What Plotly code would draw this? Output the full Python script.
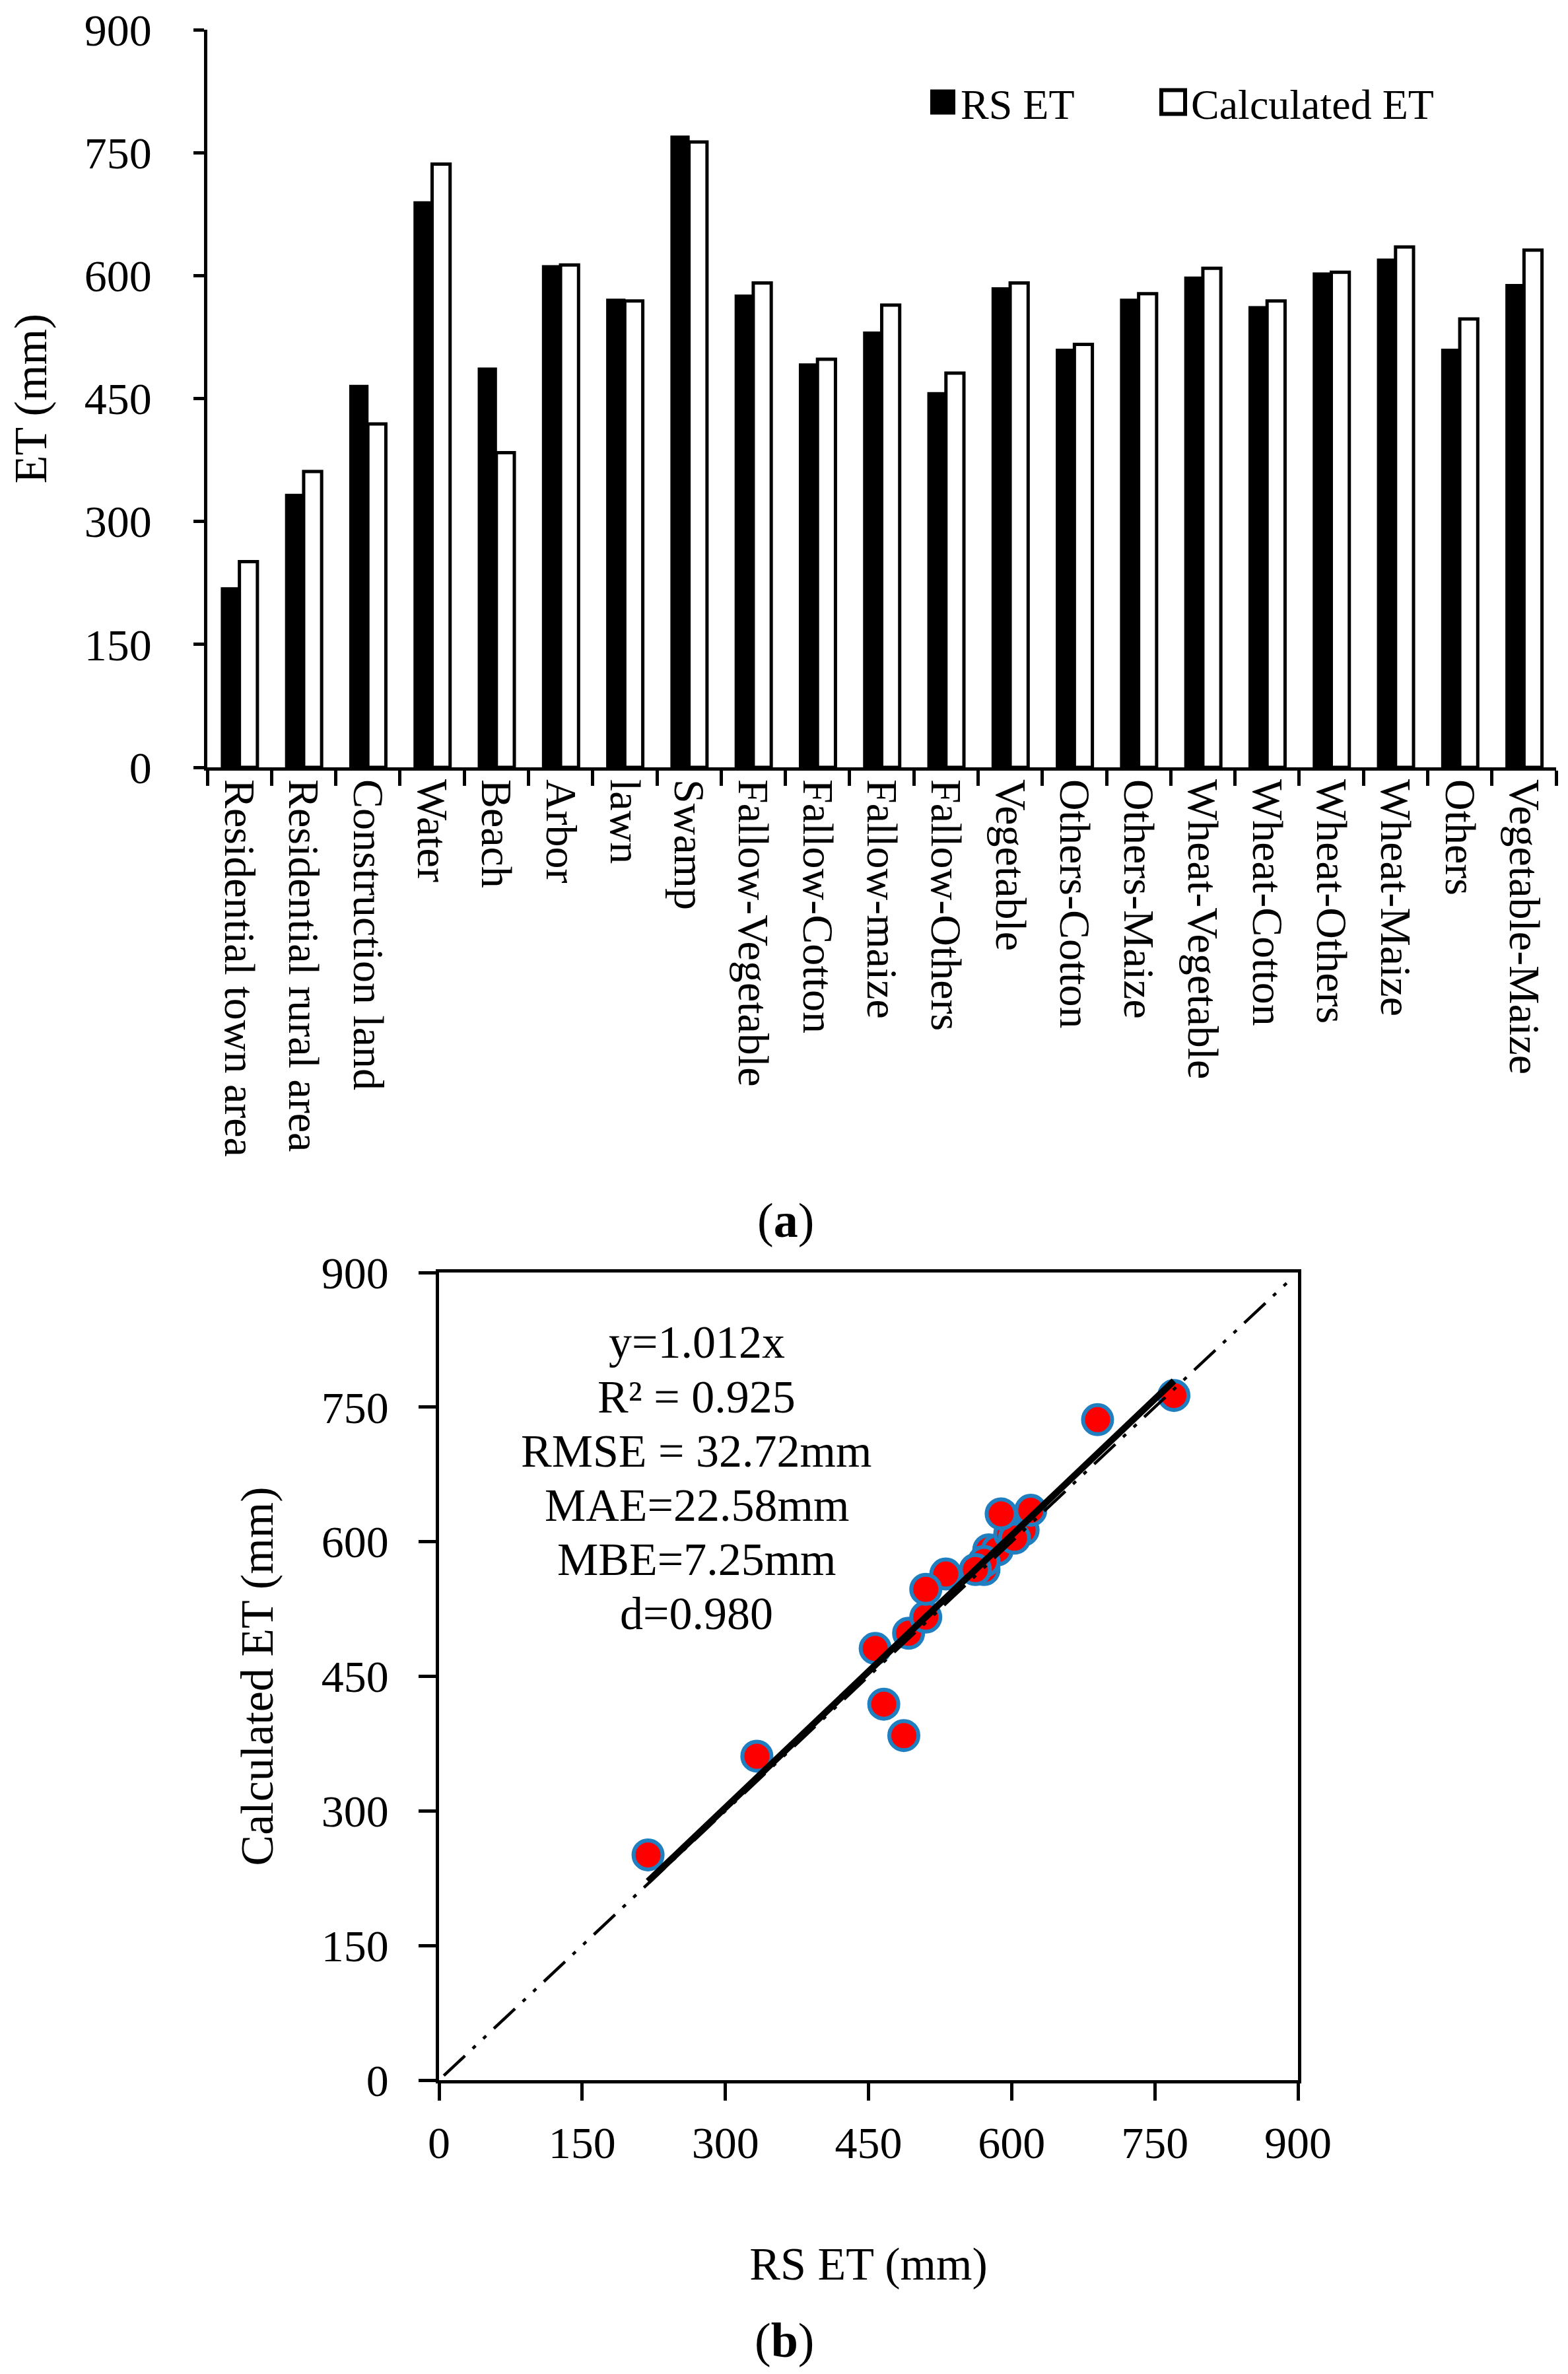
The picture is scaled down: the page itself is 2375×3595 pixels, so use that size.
import plotly.graph_objects as go

categories = [
    "Residential town area", "Residential rural area", "Construction land", "Water",
    "Beach", "Arbor", "lawn", "Swamp", "Fallow-Vegetable", "Fallow-Cotton",
    "Fallow-maize", "Fallow-Others", "Vegetable", "Others-Cotton", "Others-Maize",
    "Wheat-Vegetable", "Wheat-Cotton", "Wheat-Others", "Wheat-Maize", "Others",
    "Vegetable-Maize",
]
rs_et = [219, 333, 466, 690, 487, 612, 571, 770, 576, 492, 531, 457, 585, 510, 571,
         598, 562, 603, 620, 510, 589]
calc_et = [251, 361, 419, 736, 384, 613, 569, 763, 591, 498, 564, 481, 591, 516, 578,
           609, 569, 604, 635, 547, 631]
y_ticks = [0, 150, 300, 450, 600, 750, 900]
fit_slope = 1.012
one_to_one = [5, 890]
stats_lines = ["y=1.012x", "R² = 0.925", "RMSE = 32.72mm", "MAE=22.58mm",
               "MBE=7.25mm", "d=0.980"]

FONT = "Liberation Serif, Times New Roman, serif"
W, H = 2375, 3595

fig = go.Figure()

# ---- (a) bar chart ----
fig.add_trace(go.Bar(
    x=categories, y=rs_et, name="RS ET", legend="legend",
    marker=dict(color="black", line=dict(color="black", width=2)),
    xaxis="x", yaxis="y",
))
fig.add_trace(go.Bar(
    x=categories, y=calc_et, name="Calculated ET", legend="legend2",
    marker=dict(color="white", line=dict(color="black", width=5)),
    xaxis="x", yaxis="y",
))

# ---- (b) scatter ----
fig.add_trace(go.Scatter(
    x=rs_et, y=calc_et, mode="markers", showlegend=False,
    marker=dict(size=44, color="#ff0000", line=dict(color="#1f7fc0", width=6)),
    xaxis="x2", yaxis="y2",
))
fig.add_trace(go.Scatter(
    x=one_to_one, y=one_to_one, mode="lines", showlegend=False,
    line=dict(color="black", width=4.5, dash="44px,16px,6px,16px,6px,16px"),
    xaxis="x2", yaxis="y2",
))
x_fit = [min(rs_et), max(rs_et)]
fig.add_trace(go.Scatter(
    x=x_fit, y=[fit_slope * v for v in x_fit], mode="lines", showlegend=False,
    line=dict(color="black", width=10),
    xaxis="x2", yaxis="y2",
))

axis_common = dict(
    showline=True, linecolor="black", linewidth=4.5, showgrid=False, zeroline=False,
    ticks="outside", tickcolor="black", tickwidth=4.5, automargin=False,
    ticklabeloverflow="allow",
)
tick_font = dict(family=FONT, size=68, color="black")
title_font = dict(family=FONT, size=70, color="black")

annotations = []
y_start, y_step = 822, 60.4
for i, t in enumerate(stats_lines):
    annotations.append(dict(
        x=270, y=y_start - i * y_step, xref="x2", yref="y2", text=t, showarrow=False,
        xanchor="center", yanchor="middle",
        font=dict(family=FONT, size=70, color="black"),
    ))
annotations.append(dict(
    x=1182 / W, y=1 - 1840 / H, xref="paper", yref="paper", text="(<b>a</b>)",
    showarrow=False, xanchor="center", yanchor="middle",
    font=dict(family=FONT, size=74, color="black"),
))
annotations.append(dict(
    x=1180 / W, y=1 - 3536 / H, xref="paper", yref="paper", text="(<b>b</b>)",
    showarrow=False, xanchor="center", yanchor="middle",
    font=dict(family=FONT, size=74, color="black"),
))

legend_common = dict(
    orientation="h", xanchor="left", yanchor="middle", itemwidth=44,
    font=dict(family=FONT, size=64, color="black"),
    bgcolor="rgba(0,0,0,0)", borderwidth=0,
)

fig.update_layout(
    width=W, height=H,
    margin=dict(l=0, r=0, t=0, b=0),
    paper_bgcolor="white", plot_bgcolor="white",
    font=dict(family=FONT, color="black"),
    barmode="group", bargap=0.44, bargroupgap=0,
    showlegend=True,
    legend=dict(x=1393 / W, y=1 - 147 / H, **legend_common),
    legend2=dict(x=1742 / W, y=1 - 147 / H, **legend_common),
    xaxis=dict(
        domain=[306 / W, 2349 / W], anchor="y", type="category",
        tickson="boundaries", ticklen=23, tickangle=90,
        tickfont=dict(family=FONT, size=66, color="black"),
        **axis_common,
    ),
    yaxis=dict(
        domain=[1 - 1154 / H, 1 - 37 / H], anchor="x", range=[0, 900],
        tickvals=y_ticks, ticklen=16, ticklabelstandoff=50, tickfont=tick_font,
        title=dict(text="ET (mm)", font=title_font, standoff=45),
        **axis_common,
    ),
    xaxis2=dict(
        domain=[657 / W, 1958 / W], anchor="y2", range=[0, 900], tickvals=y_ticks,
        ticklen=26, mirror=True, ticklabelstandoff=6, tickfont=tick_font,
        title=dict(text="RS ET (mm)", font=title_font, standoff=122),
        **axis_common,
    ),
    yaxis2=dict(
        domain=[1 - 3142 / H, 1 - 1919 / H], anchor="x2", range=[0, 900], tickvals=y_ticks,
        ticklen=26, mirror=True, ticklabelstandoff=32, tickfont=tick_font,
        title=dict(text="Calculated ET (mm)", font=title_font, standoff=52),
        **axis_common,
    ),
    annotations=annotations,
)

# enlarge the legend swatches to the size used in the original figure
post_js = """
var gd = document.getElementById('{plot_id}');
function bigSwatches() {
  gd.querySelectorAll('.legendpoints path').forEach(function (p) {
    var d = p.getAttribute('d') || '';
    if (d.indexOf('M6,6H-6V-6H6Z') === 0) {
      p.setAttribute('d', 'M18,18H-18V-18H18Z');
      var sw = parseFloat(p.style.strokeWidth || '0');
      if (sw > 3) { p.style.strokeWidth = '6px'; }
    }
  });
}
bigSwatches();
gd.on('plotly_afterplot', bigSwatches);
"""

fig.write_html("out.html", post_script=post_js)
